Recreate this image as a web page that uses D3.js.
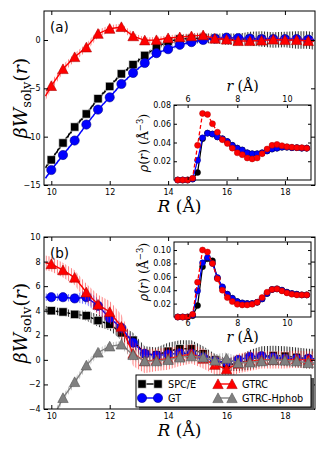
<!DOCTYPE html>
<html lang="en">
<head>
<meta charset="UTF-8">
<title></title>
<script src="https://d3js.org/d3.v7.min.js"></script>
<style>
body { margin: 0; background: #fff; }
text { font-family: "DejaVu Sans", sans-serif; }
.math { font-family: "DejaVu Serif", "Liberation Serif", serif; }
</style>
</head>
<body>
<script>

var w = 325;
var h = 449;

// main panels: separation R (Angstrom); first and last point only carry the line
var R = [9.8, 10.0, 10.4, 10.8, 11.2, 11.6, 12.0, 12.4, 12.8, 13.2, 13.6, 14.0, 14.4,
         14.8, 15.2, 15.6, 16.0, 16.4, 16.8, 17.2, 17.6, 18.0, 18.4, 18.8, 19.0];

// (a)
var aSpce = [-13.2, -12.4, -10.65, -9.0, -7.65, -6.07, -4.8, -3.5, -2.55, -1.6, -0.76, -0.15, 0.1,
             0.15, 0.2, 0.15, 0.1, 0.05, 0.15, 0.1, 0.0, 0.05, 0.0, 0.0, -0.1];
var aGt = [-14.3, -13.45, -11.9, -10.4, -8.75, -7.2, -5.93, -4.55, -3.41, -2.38, -1.36, -0.95, -0.5,
           -0.22, 0.0, 0.15, 0.25, 0.2, 0.15, 0.1, 0.1, 0.1, 0.1, 0.05, 0.05];
var aGtrc = [-5.8, -4.75, -3.0, -1.76, -0.76, 0.65, 1.17, 1.35, 0.4, -0.03, 0.0, 0.2, 0.3,
             0.4, 0.5, 0.15, 0.05, -0.1, -0.1, -0.05, 0.05, 0.0, 0.0, -0.1, -0.1];
var aSpceErr = [0.2, 0.2, 0.2, 0.2, 0.2, 0.2, 0.2, 0.2, 0.2, 0.2, 0.25, 0.3, 0.4,
                0.5, 0.5, 0.5, 0.6, 0.6, 0.7, 0.8, 0.8, 0.8, 0.9, 0.9, 0.9];
var aGtErr = [0.15, 0.15, 0.15, 0.15, 0.15, 0.15, 0.15, 0.15, 0.15, 0.15, 0.15, 0.2, 0.2,
              0.2, 0.25, 0.25, 0.25, 0.25, 0.25, 0.25, 0.25, 0.25, 0.25, 0.25, 0.25];
var aGtrcErr = [0.45, 0.45, 0.45, 0.4, 0.4, 0.4, 0.35, 0.35, 0.35, 0.3, 0.3, 0.3, 0.3,
                0.3, 0.3, 0.3, 0.3, 0.3, 0.3, 0.3, 0.3, 0.3, 0.3, 0.3, 0.3];

// (b)
var bSpce = [4.1, 4.0, 3.9, 3.7, 3.6, 3.2, 2.9, 2.2, 1.6, 0.5, 0.4, 0.7, 0.9,
             0.9, 0.5, 0.0, -0.4, -0.3, 0.0, 0.3, 0.35, 0.3, 0.2, 0.1, 0.1];
var bGt = [5.1, 5.1, 5.1, 5.0, 5.1, 4.4, 3.4, 2.6, 1.4, 0.5, 0.35, 0.45, 0.55,
           0.5, 0.2, -0.1, -0.2, 0.0, 0.25, 0.3, 0.2, 0.1, 0.1, 0.1, 0.1];
var bGtrc = [7.9, 7.8, 7.3, 6.7, 5.5, 4.5, 3.9, 2.7, 0.5, -0.1, 0.0, 0.1, 0.3,
             0.5, 0.1, -0.4, -0.75, -0.3, -0.1, 0.0, 0.0, 0.0, 0.05, 0.0, 0.0];
var bHphob = [-6.0, -5.0, -3.1, -1.8, -0.45, 0.6, 1.1, 1.25, 0.4, -0.1, -0.1, 0.0, 0.2,
              0.3, 0.2, -0.05, 0.1, -0.25, -0.2, -0.1, 0.0, -0.05, -0.1, -0.25, -0.25];
var bSpceErr = [0.3, 0.3, 0.3, 0.3, 0.4, 0.5, 0.5, 0.6, 0.6, 0.6, 0.6, 0.7, 0.7,
                0.7, 0.6, 0.5, 0.5, 0.6, 0.8, 0.8, 0.8, 0.8, 0.8, 0.8, 0.8];
var bGtErr = [0.3, 0.3, 0.3, 0.3, 0.6, 0.6, 0.4, 0.4, 0.4, 0.3, 0.3, 0.3, 0.3,
              0.3, 0.3, 0.3, 0.3, 0.3, 0.3, 0.3, 0.3, 0.3, 0.3, 0.3, 0.3];
var bGtrcErr = [0.6, 0.6, 0.6, 0.6, 0.7, 0.8, 0.9, 1.0, 1.0, 1.0, 0.9, 0.9, 0.8,
                0.8, 0.8, 0.8, 0.8, 0.8, 0.8, 0.7, 0.7, 0.7, 0.7, 0.7, 0.7];
var bHphobErr = [0.3, 0.3, 0.3, 0.3, 0.3, 0.3, 0.3, 0.3, 0.4, 0.5, 0.5, 0.5, 0.5,
                 0.5, 0.5, 0.5, 0.5, 0.5, 0.5, 0.5, 0.5, 0.5, 0.5, 0.5, 0.5];

// insets: density rho(r)
var r = [5.6, 5.8, 6.0, 6.2, 6.4, 6.6, 6.8, 7.0, 7.2, 7.4, 7.6, 7.8, 8.0, 8.2,
         8.4, 8.6, 8.8, 9.0, 9.2, 9.4, 9.6, 9.8, 10.0, 10.2, 10.4, 10.6, 10.8];
var iaSpce = [0, 0, 0, 0.001, 0.008, 0.044, 0.050, 0.049, 0.046, 0.044, 0.041, 0.037, 0.034, 0.032,
              0.029, 0.028, 0.028, 0.029, 0.031, 0.033, 0.034, 0.035, 0.035, 0.0345, 0.0345, 0.034, 0.034];
var iaGt = [0, 0, 0, 0.001, 0.021, 0.045, 0.050, 0.049, 0.046, 0.044, 0.041, 0.037, 0.034, 0.032,
            0.029, 0.028, 0.028, 0.029, 0.031, 0.033, 0.034, 0.035, 0.035, 0.0345, 0.0345, 0.034, 0.034];
var iaGtrc = [0, 0, 0, 0.002, 0.037, 0.071, 0.070, 0.060, 0.051, 0.043, 0.039, 0.034, 0.029, 0.027,
              0.0235, 0.0225, 0.0235, 0.028, 0.033, 0.037, 0.038, 0.0366, 0.0356, 0.035, 0.0345, 0.0345, 0.034];
var ibSpce = [0, 0, 0, 0.002, 0.017, 0.075, 0.087, 0.084, 0.058, 0.044, 0.034, 0.028, 0.023, 0.021,
              0.020, 0.020, 0.022, 0.027, 0.035, 0.041, 0.042, 0.040, 0.037, 0.035, 0.034, 0.033, 0.033];
var ibGt = [0, 0, 0, 0.003, 0.039, 0.081, 0.089, 0.080, 0.059, 0.045, 0.034, 0.028, 0.023, 0.021,
            0.020, 0.020, 0.022, 0.027, 0.035, 0.041, 0.042, 0.040, 0.037, 0.035, 0.034, 0.033, 0.033];
var ibGtrc = [0, 0, 0, 0.004, 0.052, 0.100, 0.097, 0.080, 0.057, 0.040, 0.029, 0.023, 0.019, 0.018,
              0.018, 0.019, 0.022, 0.029, 0.037, 0.041, 0.042, 0.039, 0.036, 0.034, 0.033, 0.033, 0.033];

var mainXTicks = [10, 12, 14, 16, 18];
var aYTicks = [-15, -10, -5, 0];
var bYTicks = [-4, -2, 0, 2, 4, 6, 8, 10];
var insetXTicks = [6, 8, 10];
var iaYTicks = [0.02, 0.04, 0.06, 0.08];
var ibYTicks = [0.02, 0.04, 0.06, 0.08, 0.10];
var legendNames = ["SPC/E", "GTRC", "GT", "GTRC-Hphob"];

var styles = {
    spce:  {color: "#000000", edge: "#ffffff", shape: "square",   hatch: "h-black"},
    gt:    {color: "#0000ff", edge: "#00008b", shape: "circle",   hatch: "h-blue"},
    gtrc:  {color: "#ff0000", edge: "#b00000", shape: "triangle", hatch: "h-red"},
    hphob: {color: "#808080", edge: "#555555", shape: "triangle", hatch: "h-gray"}
};

var svg = d3.select("body")
    .append("svg")
    .attr("width", w)
    .attr("height", h);

var defs = svg.append("defs");

function hatch(id, color, op) {
    var p = defs.append("pattern")
        .attr("id", id)
        .attr("patternUnits", "userSpaceOnUse")
        .attr("width", 2.8)
        .attr("height", 8);
    p.append("line")
        .attr("x1", 1.4).attr("x2", 1.4)
        .attr("y1", 0).attr("y2", 8)
        .attr("stroke", color)
        .attr("stroke-opacity", op)
        .attr("stroke-width", 1);
}
hatch("h-black", "#000000", 0.85);
hatch("h-blue", "#3030ff", 0.7);
hatch("h-red", "#ff2020", 0.6);
hatch("h-gray", "#909090", 0.6);

function shapePath(shape) {
    if (shape == "square") return "M-4.2,-4.2H4.2V4.2H-4.2Z";
    if (shape == "circle") return "M4.6,0A4.6,4.6 0 1 1 -4.6,0A4.6,4.6 0 1 1 4.6,0Z";
    return "M0,-5.1L5.2,4.6L-5.2,4.6Z";
}

var mx0 = 44, mx1 = 315;
var xMain = d3.scaleLinear().domain([9.75, 19.03]).range([mx0, mx1]);

function mainPanel(top, bottom, yDomain, yTicks, series, id, tag) {
    var y = d3.scaleLinear().domain(yDomain).range([bottom, top]);
    var g = svg.append("g");

    defs.append("clipPath").attr("id", id)
        .append("rect")
        .attr("x", mx0).attr("y", top)
        .attr("width", mx1 - mx0).attr("height", bottom - top);

    var plot = g.append("g").attr("clip-path", "url(#" + id + ")");

    series.forEach(function(s) {
        var st = styles[s.key];
        var pts = R.map(function(d, i) { return {r: d, v: s.values[i], e: s.err[i], i: i}; });

        plot.append("path")
            .datum(pts)
            .attr("d", d3.area()
                .x(function(d) { return xMain(d.r); })
                .y0(function(d) { return y(d.v - d.e); })
                .y1(function(d) { return y(d.v + d.e); }))
            .attr("fill", "url(#" + st.hatch + ")");

        plot.append("path")
            .datum(pts)
            .attr("d", d3.line()
                .x(function(d) { return xMain(d.r); })
                .y(function(d) { return y(d.v); }))
            .attr("fill", "none")
            .attr("stroke", st.color)
            .attr("stroke-width", 1.4);

        plot.selectAll(null)
            .data(pts.filter(function(d) { return d.i > 0 && d.i < R.length - 1; }))
            .enter()
            .append("path")
            .attr("transform", function(d) { return "translate(" + xMain(d.r) + "," + y(d.v) + ")"; })
            .attr("d", shapePath(st.shape))
            .attr("fill", st.color)
            .attr("stroke", st.edge)
            .attr("stroke-width", 0.6);
    });

    g.append("rect")
        .attr("x", mx0).attr("y", top)
        .attr("width", mx1 - mx0).attr("height", bottom - top)
        .attr("fill", "none")
        .attr("stroke", "#000")
        .attr("stroke-width", 1);

    g.append("g").attr("transform", "translate(0," + bottom + ")")
        .call(d3.axisBottom(xMain).tickValues(mainXTicks).tickSize(-4).tickPadding(4));
    g.append("g").attr("transform", "translate(0," + top + ")")
        .call(d3.axisTop(xMain).tickValues(mainXTicks).tickSize(-4).tickFormat(""));
    g.append("g").attr("transform", "translate(" + mx0 + ",0)")
        .call(d3.axisLeft(y).tickValues(yTicks).tickSize(-4).tickPadding(3.5));
    g.append("g").attr("transform", "translate(" + mx1 + ",0)")
        .call(d3.axisRight(y).tickValues(yTicks).tickSize(-4).tickFormat(""));
    g.selectAll(".domain").remove();
    g.selectAll(".tick text").style("font-family", "'DejaVu Sans', sans-serif").style("font-size", "8px");

    g.append("text")
        .attr("x", 50).attr("y", top + 21)
        .style("font-size", "13.5px")
        .text(tag);

    var yl = g.append("text")
        .attr("class", "math")
        .attr("transform", "translate(27," + ((top + bottom) / 2) + ") rotate(-90)")
        .attr("text-anchor", "middle")
        .style("font-size", "19px");
    yl.append("tspan").style("font-style", "italic").text("\u03b2W");
    yl.append("tspan").attr("dy", 4).style("font-size", "13px").text("solv");
    yl.append("tspan").attr("dy", -4).text("(");
    yl.append("tspan").style("font-style", "italic").text("r");
    yl.append("tspan").text(")");

    var xl = g.append("text")
        .attr("class", "math")
        .attr("x", (mx0 + mx1) / 2)
        .attr("y", bottom + 27)
        .attr("text-anchor", "middle")
        .style("font-size", "17px");
    xl.append("tspan").style("font-style", "italic").text("R");
    xl.append("tspan").text(" (\u00c5)");

    return g;
}

var ix0 = 174, ix1 = 311;
var xIn = d3.scaleLinear().domain([5.45, 10.97]).range([ix0, ix1]);

function inset(top, bottom, yMax, yTicks, series, labelsOnTop, yLabelY) {
    var y = d3.scaleLinear().domain([0, yMax]).range([bottom, top]);
    var g = svg.append("g");

    g.append("rect")
        .attr("x", ix0).attr("y", top)
        .attr("width", ix1 - ix0).attr("height", bottom - top)
        .attr("fill", "#fff")
        .attr("stroke", "#000")
        .attr("stroke-width", 1);

    series.forEach(function(s) {
        var pts = r.map(function(d, i) { return {r: d, v: s.values[i]}; });
        g.append("path")
            .datum(pts)
            .attr("d", d3.line()
                .x(function(d) { return xIn(d.r); })
                .y(function(d) { return y(d.v); }))
            .attr("fill", "none")
            .attr("stroke", s.color)
            .attr("stroke-width", 1.3)
            .attr("stroke-dasharray", s.dash);
        g.selectAll(null)
            .data(pts)
            .enter()
            .append("circle")
            .attr("cx", function(d) { return xIn(d.r); })
            .attr("cy", function(d) { return y(d.v); })
            .attr("r", 3)
            .attr("fill", s.color)
            .attr("stroke", s.edge)
            .attr("stroke-width", 0.5);
    });

    var bx = d3.axisBottom(xIn).tickValues(insetXTicks).tickSize(-3).tickPadding(3).tickFormat(d3.format("d"));
    var tx = d3.axisTop(xIn).tickValues(insetXTicks).tickSize(-3).tickPadding(3).tickFormat(d3.format("d"));
    if (labelsOnTop) bx.tickFormat(""); else tx.tickFormat("");
    g.append("g").attr("transform", "translate(0," + bottom + ")").call(bx);
    g.append("g").attr("transform", "translate(0," + top + ")").call(tx);
    g.append("g").attr("transform", "translate(" + ix0 + ",0)")
        .call(d3.axisLeft(y).tickValues(yTicks).tickSize(-3).tickPadding(3).tickFormat(d3.format(".2f")));
    g.append("g").attr("transform", "translate(" + ix1 + ",0)")
        .call(d3.axisRight(y).tickValues(yTicks).tickSize(-3).tickFormat(""));
    g.selectAll(".domain").remove();
    g.selectAll(".tick text").style("font-family", "'DejaVu Sans', sans-serif").style("font-size", "8px");

    var xl = g.append("text")
        .attr("class", "math")
        .attr("x", (ix0 + ix1) / 2)
        .attr("y", labelsOnTop ? top - 14 : bottom + 25)
        .attr("text-anchor", "middle")
        .style("font-size", "14px");
    xl.append("tspan").style("font-style", "italic").text("r");
    xl.append("tspan").text(" (\u00c5)");

    var yl = g.append("text")
        .attr("class", "math")
        .attr("transform", "translate(148," + yLabelY + ") rotate(-90)")
        .attr("text-anchor", "middle")
        .style("font-size", "12.5px");
    yl.append("tspan").style("font-style", "italic").text("\u03c1");
    yl.append("tspan").text("(");
    yl.append("tspan").style("font-style", "italic").text("r");
    yl.append("tspan").text(") (\u00c5");
    yl.append("tspan").attr("dy", -5).style("font-size", "8.5px").text("\u22123");
    yl.append("tspan").attr("dy", 5).text(")");
}

mainPanel(11, 185, [-15, 3], aYTicks, [
    {key: "spce", values: aSpce, err: aSpceErr},
    {key: "gt", values: aGt, err: aGtErr},
    {key: "gtrc", values: aGtrc, err: aGtrcErr}
], "clipA", "(a)");

inset(105, 180, 0.08, iaYTicks, [
    {values: iaSpce, color: "#000", edge: "#000", dash: null},
    {values: iaGt, color: "#0000ff", edge: "#00008b", dash: null},
    {values: iaGtrc, color: "#ff0000", edge: "#b00000", dash: "4,2.5"}
], true, 143);

mainPanel(237, 409, [-4, 10], bYTicks, [
    {key: "spce", values: bSpce, err: bSpceErr},
    {key: "gt", values: bGt, err: bGtErr},
    {key: "gtrc", values: bGtrc, err: bGtrcErr},
    {key: "hphob", values: bHphob, err: bHphobErr}
], "clipB", "(b)");

inset(242, 317, 0.112, ibYTicks, [
    {values: ibSpce, color: "#000", edge: "#000", dash: null},
    {values: ibGt, color: "#0000ff", edge: "#00008b", dash: null},
    {values: ibGtrc, color: "#ff0000", edge: "#b00000", dash: "4,2.5"}
], false, 272);

// legend
var lg = svg.append("g");
lg.append("rect")
    .attr("x", 139).attr("y", 378).attr("width", 175).attr("height", 32)
    .attr("fill", "#555");
lg.append("rect")
    .attr("x", 136).attr("y", 375).attr("width", 175).attr("height", 32)
    .attr("fill", "#fff").attr("stroke", "#000").attr("stroke-width", 1);

var legendKeys = ["spce", "gtrc", "gt", "hphob"];
legendKeys.forEach(function(k, i) {
    var st = styles[k];
    var cx = (i % 2 == 0) ? 142 : 218;
    var cy = (i < 2) ? 384 : 398;
    var len = (i % 2 == 0) ? 16 : 14;
    lg.append("line")
        .attr("x1", cx).attr("x2", cx + len)
        .attr("y1", cy).attr("y2", cy)
        .attr("stroke", st.color).attr("stroke-width", 1.4);
    [cx, cx + len].forEach(function(px) {
        lg.append("path")
            .attr("transform", "translate(" + px + "," + cy + ")")
            .attr("d", shapePath(st.shape))
            .attr("fill", st.color)
            .attr("stroke", st.edge)
            .attr("stroke-width", 0.6);
    });
    lg.append("text")
        .attr("x", cx + len + 10)
        .attr("y", cy + 3.5)
        .style("font-size", "9.7px")
        .text(legendNames[i]);
});

</script>
</body>
</html>
